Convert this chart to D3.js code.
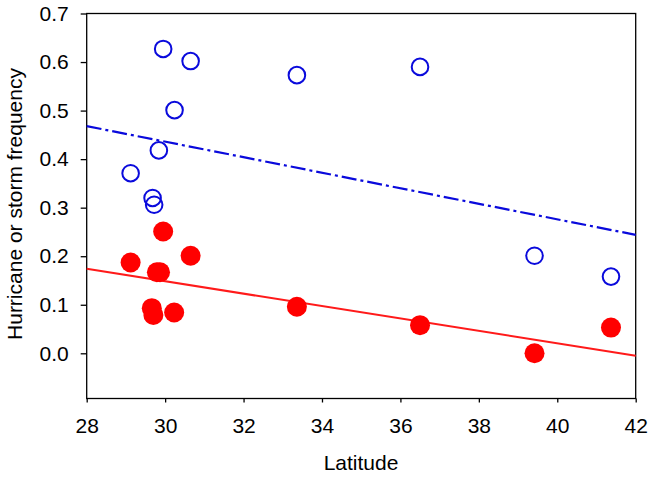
<!DOCTYPE html>
<html>
<head>
<meta charset="utf-8">
<script src="https://cdn.jsdelivr.net/npm/d3@7"></script>
<style>
  html, body { margin: 0; padding: 0; background: #fff; }
  svg { display: block; }
  text { font-family: "Liberation Sans", Arial, sans-serif; fill: #000; }
</style>
</head>
<body>
<svg id="chart" width="653" height="477"></svg>
<script>
// ---- data ----
const hurricaneLat  = [29.12, 29.68, 29.72, 29.84, 29.95, 30.24, 30.65, 33.36, 36.50, 39.42, 41.37];
const hurricaneFreq = [0.371, 0.320, 0.306, 0.418, 0.627, 0.501, 0.602, 0.573, 0.590, 0.201, 0.158];
const stormLat  = [29.12, 29.66, 29.70, 29.79, 29.87, 29.95, 30.23, 30.65, 33.36, 36.50, 39.42, 41.37];
const stormFreq = [0.187, 0.093, 0.079, 0.167, 0.167, 0.251, 0.084, 0.201, 0.096, 0.058, 0.000, 0.053];
const fitLat = [28, 42];
const hurricaneFit = [0.468, 0.244];
const stormFit = [0.174, -0.005];
const xTicks = [28, 30, 32, 34, 36, 38, 40, 42];
const yTicks = [0.0, 0.1, 0.2, 0.3, 0.4, 0.5, 0.6, 0.7];

// ---- layout ----
const svg = d3.select("#chart");
const pLeft = 86.7, pRight = 635.7, pTop = 13.5, pBottom = 398.5;
const x = d3.scaleLinear().domain([28, 42]).range([pLeft, pRight]);
const y = d3.scaleLinear().domain([0, 0.7]).range([353.3, pTop]);

// frame
svg.append("rect")
  .attr("x", pLeft).attr("y", pTop)
  .attr("width", pRight - pLeft).attr("height", pBottom - pTop)
  .attr("fill", "none").attr("stroke", "#000").attr("stroke-width", 1.3);

// axes
const xAxis = svg.append("g").attr("transform", `translate(0,${pBottom})`)
  .call(d3.axisBottom(x).tickValues(xTicks).tickSize(4).tickPadding(16).tickFormat(d3.format("d")));
const yAxis = svg.append("g").attr("transform", `translate(${pLeft},0)`)
  .call(d3.axisLeft(y).tickValues(yTicks).tickSize(6).tickPadding(12).tickFormat(d3.format(".1f")));
[xAxis, yAxis].forEach(g => {
  g.select(".domain").remove();
  g.selectAll("line").attr("stroke", "#000").attr("stroke-width", 1.3);
  g.selectAll("text").attr("font-size", 21).attr("font-family", "Liberation Sans, Arial, sans-serif").attr("fill", "#000");
});

// axis titles
svg.append("text").attr("x", 361).attr("y", 470)
  .attr("text-anchor", "middle").attr("font-size", 21).text("Latitude");
svg.append("text").attr("transform", `translate(22,204) rotate(-90)`)
  .attr("text-anchor", "middle").attr("font-size", 21).text("Hurricane or storm frequency");

// fit lines
const line = d3.line().x(d => x(d[0])).y(d => y(d[1]));
svg.append("path").datum(d3.zip(fitLat, hurricaneFit)).attr("d", line)
  .attr("fill", "none").attr("stroke", "#0a0adc").attr("stroke-width", 2.2)
  .attr("stroke-dasharray", "15,4,3,4");
svg.append("path").datum(d3.zip(fitLat, stormFit)).attr("d", line)
  .attr("fill", "none").attr("stroke", "#ff1a1a").attr("stroke-width", 2);

// points
svg.append("g").selectAll("circle").data(d3.zip(hurricaneLat, hurricaneFreq)).join("circle")
  .attr("cx", d => x(d[0])).attr("cy", d => y(d[1])).attr("r", 8.3)
  .attr("fill", "none").attr("stroke", "#0a0adc").attr("stroke-width", 2);
svg.append("g").selectAll("circle").data(d3.zip(stormLat, stormFreq)).join("circle")
  .attr("cx", d => x(d[0])).attr("cy", d => y(d[1])).attr("r", 10)
  .attr("fill", "#ff0000");
</script>
</body>
</html>
